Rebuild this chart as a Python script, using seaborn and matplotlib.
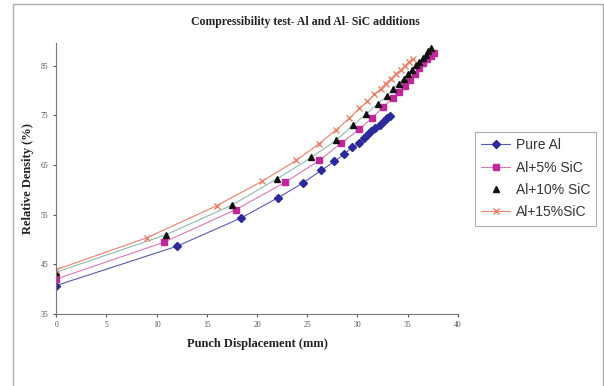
import matplotlib
matplotlib.use("Agg")
import matplotlib.pyplot as plt
import seaborn as sns
import pandas as pd
from matplotlib.lines import Line2D
from matplotlib.patches import Rectangle

# data
pure_x = [0, 12.0, 18.4, 22.1, 24.6, 26.4, 27.7, 28.7, 29.5, 30.2, 30.7, 31.0, 31.4, 31.8, 32.2, 32.6, 32.9, 33.2]
pure_y = [40.7, 48.6, 54.3, 58.4, 61.4, 63.9, 65.7, 67.2, 68.6, 69.5, 70.4, 71.1, 71.8, 72.4, 73.1, 73.8, 74.5, 74.8]

sic5_x = [0, 10.7, 17.9, 22.8, 26.2, 28.4, 30.2, 31.5, 32.5, 33.5, 34.1, 34.7, 35.2, 35.7, 36.1, 36.5, 36.9, 37.3, 37.6]
sic5_y = [42.0, 49.4, 56.0, 61.5, 65.9, 69.4, 72.2, 74.5, 76.6, 78.4, 79.7, 81.0, 82.2, 83.4, 84.5, 85.5, 86.3, 87.0, 87.6]

sic10_x = [0, 10.9, 17.5, 22.0, 25.4, 27.9, 29.6, 30.9, 32.0, 32.9, 33.5, 34.1, 34.6, 35.0, 35.4, 35.8, 36.1, 36.5, 36.8, 37.0, 37.3]
sic10_y = [43.4, 50.9, 56.9, 62.2, 66.5, 70.0, 73.1, 75.3, 77.3, 78.8, 80.2, 81.4, 82.4, 83.3, 84.2, 85.1, 85.8, 86.5, 87.2, 87.9, 88.6]

sic15_x = [0, 9.0, 16.0, 20.5, 23.9, 26.2, 27.9, 29.2, 30.2, 31.0, 31.7, 32.3, 32.8, 33.3, 33.8, 34.3, 34.7, 35.1, 35.5]
sic15_y = [43.9, 50.3, 56.8, 61.7, 65.9, 69.3, 72.1, 74.4, 76.4, 77.8, 79.2, 80.3, 81.4, 82.3, 83.3, 84.1, 84.9, 85.7, 86.4]

labels = ["Pure Al", "Al+5% SiC", "Al+10% SiC", "Al+15%SiC"]
x_ticks = [0, 5, 10, 15, 20, 25, 30, 35, 40]
y_ticks = [35, 45, 55, 65, 75, 85]

sns.set_style("white")

fig = plt.figure(figsize=(6.04, 3.86), dpi=100)
# chart area border
fig.patches.append(Rectangle((0.021, -0.01), 0.977, 1.0, transform=fig.transFigure,
                             fill=False, edgecolor="#b0b0b0", lw=1.0))
ax = fig.add_axes([0.093, 0.187, 0.665, 0.702])

series = [
    (pure_x, pure_y, "#2a2a9a", "#5a5ab0", "D", 4.0),
    (sic5_x, sic5_y, "#c0289a", "#d877b8", "s", 5.0),
    (sic10_x, sic10_y, "#111111", "#8fb8b0", "^", 5.0),
    (sic15_x, sic15_y, "#e8806a", "#e8806a", "x", 4.0),
]

for (xs, ys, mc, lc, mk, ms), lab in zip(series, labels):
    df = pd.DataFrame({"x": xs, "y": ys})
    sns.lineplot(data=df, x="x", y="y", ax=ax, color=lc, lw=0.8, sort=False)
    ax.plot(df["x"], df["y"], ls="none", marker=mk, ms=ms, color=mc, mec=mc, mew=1.0)

ax.set_xlim(0, 40)
ax.set_ylim(35, 89.6)
ax.set_xticks(x_ticks)
ax.set_yticks(y_ticks)
ax.tick_params(axis="both", labelsize=5.5, colors="#555555", length=2, direction="out",
               left=True, bottom=True)
for lab in ax.get_xticklabels() + ax.get_yticklabels():
    lab.set_family("Liberation Serif")
ax.spines["top"].set_visible(False)
ax.spines["right"].set_visible(False)
ax.spines["left"].set_color("#777777")
ax.spines["bottom"].set_color("#777777")

ax.set_xlabel("Punch Displacement (mm)", fontsize=9, fontweight="bold",
              family="Liberation Serif", color="#222222", labelpad=6)
ax.set_ylabel("Relative Density (%)", fontsize=9, fontweight="bold",
              family="Liberation Serif", color="#222222", labelpad=5)
fig.text(0.505, 0.943, "Compressibility test- Al and Al- SiC additions", ha="center",
         va="center", fontsize=8.5, fontweight="bold", family="Liberation Serif", color="#222222")

handles = [
    Line2D([], [], color="#5a5ab0", lw=0.8, marker="D", ms=4.0, mfc="#2a2a9a", mec="#2a2a9a"),
    Line2D([], [], color="#d877b8", lw=0.8, marker="s", ms=5.0, mfc="#c0289a", mec="#c0289a"),
    Line2D([], [], ls="none", marker="^", ms=5.0, color="#111111"),
    Line2D([], [], color="#e8806a", lw=0.8, marker="x", ms=4.0),
]
leg = fig.legend(handles, labels, loc="upper left", bbox_to_anchor=(0.786, 0.658),
                 prop={"family": "Liberation Sans", "size": 10}, frameon=True,
                 fancybox=False, edgecolor="#999999", handlelength=2.1,
                 handletextpad=0.4, borderpad=0.45, labelspacing=0.6, borderaxespad=0)
leg.get_frame().set_linewidth(0.8)
for t in leg.get_texts():
    t.set_color("#333333")

fig.savefig("out.png", dpi=100)
